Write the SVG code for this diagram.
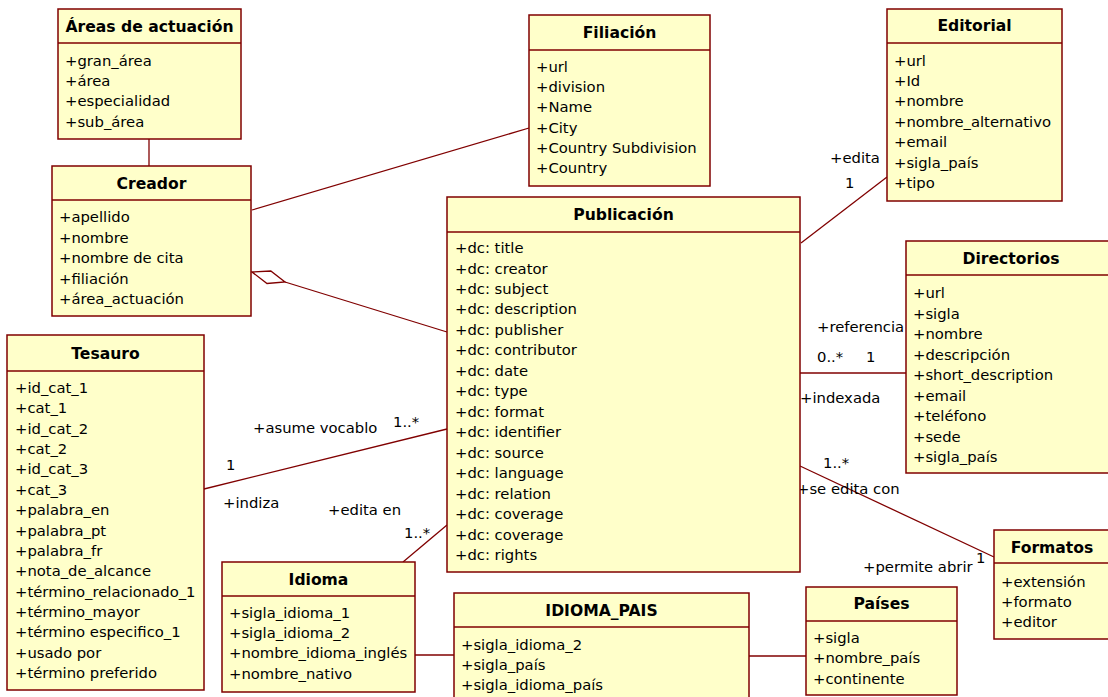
<svg xmlns="http://www.w3.org/2000/svg" width="1108" height="697" viewBox="0 0 1108 697">
<style>
.box{fill:#FFFFCA;stroke:#800000;stroke-width:1.5}
.div{stroke:#800000;stroke-width:1.5}
.t{font-family:"DejaVu Sans",Verdana,sans-serif;font-size:15.6px;font-weight:bold;fill:#000;text-anchor:middle}
.a{font-family:"DejaVu Sans",Verdana,sans-serif;font-size:14.8px;fill:#000}
.c{stroke:#800000;stroke-width:1.3;fill:none}
.l{font-family:"DejaVu Sans",Verdana,sans-serif;font-size:14.8px;fill:#000}
</style>
<rect width="1108" height="697" fill="#fff"/>
<g id="connectors">
<line class="c" x1="149" y1="139" x2="149" y2="166"/>
<line class="c" x1="252" y1="210" x2="529" y2="128"/>
<polygon class="c" points="252,272 270.8,271 285,282 267,283.5" fill="#fff"/>
<line class="c" x1="285" y1="282" x2="447" y2="332"/>
<line class="c" x1="887" y1="177" x2="801" y2="243"/>
<line class="c" x1="800" y1="373" x2="906" y2="373"/>
<line class="c" x1="204" y1="489" x2="447" y2="429"/>
<line class="c" x1="403" y1="562" x2="447" y2="525"/>
<line class="c" x1="800" y1="466" x2="994" y2="557"/>
<line class="c" x1="415" y1="655" x2="454" y2="655"/>
<line class="c" x1="749" y1="656" x2="806" y2="656"/>
<text class="l" x="830" y="163">+edita</text>
<text class="l" x="845" y="188">1</text>
<text class="l" x="817" y="332">+referencia</text>
<text class="l" x="817" y="362">0..*</text>
<text class="l" x="866" y="362">1</text>
<text class="l" x="800" y="403">+indexada</text>
<text class="l" x="823" y="468">1..*</text>
<text class="l" x="797" y="494">+se edita con</text>
<text class="l" x="976" y="563">1</text>
<text class="l" x="863" y="572">+permite abrir</text>
<text class="l" x="253" y="433">+asume vocablo</text>
<text class="l" x="393" y="427">1..*</text>
<text class="l" x="226" y="470">1</text>
<text class="l" x="223" y="508">+indiza</text>
<text class="l" x="328" y="515">+edita en</text>
<text class="l" x="404" y="538">1..*</text>
</g>
<g id="areas">
<rect class="box" x="58" y="9" width="183" height="130"/>
<line class="div" x1="58" y1="43" x2="241" y2="43"/>
<text class="t" x="149.5" y="31.5">Áreas de actuación</text>
<text class="a" x="65" y="66">+gran_área</text>
<text class="a" x="65" y="86">+área</text>
<text class="a" x="65" y="106">+especialidad</text>
<text class="a" x="65" y="127">+sub_área</text>
</g>
<g id="creador">
<rect class="box" x="52" y="166" width="199" height="150"/>
<line class="div" x1="52" y1="200" x2="251" y2="200"/>
<text class="t" x="151.5" y="188.5">Creador</text>
<text class="a" x="59" y="222">+apellido</text>
<text class="a" x="59" y="243">+nombre</text>
<text class="a" x="59" y="263">+nombre de cita</text>
<text class="a" x="59" y="284">+filiación</text>
<text class="a" x="59" y="304">+área_actuación</text>
</g>
<g id="filiacion">
<rect class="box" x="529" y="15" width="181" height="171"/>
<line class="div" x1="529" y1="50" x2="710" y2="50"/>
<text class="t" x="619.5" y="37.5">Filiación</text>
<text class="a" x="536" y="72">+url</text>
<text class="a" x="536" y="92">+division</text>
<text class="a" x="536" y="112">+Name</text>
<text class="a" x="536" y="133">+City</text>
<text class="a" x="536" y="153">+Country Subdivision</text>
<text class="a" x="536" y="173">+Country</text>
</g>
<g id="editorial">
<rect class="box" x="887" y="9" width="175" height="192"/>
<line class="div" x1="887" y1="43" x2="1062" y2="43"/>
<text class="t" x="974.5" y="30.5">Editorial</text>
<text class="a" x="894" y="66">+url</text>
<text class="a" x="894" y="86">+Id</text>
<text class="a" x="894" y="106">+nombre</text>
<text class="a" x="894" y="127">+nombre_alternativo</text>
<text class="a" x="894" y="147">+email</text>
<text class="a" x="894" y="168">+sigla_país</text>
<text class="a" x="894" y="188">+tipo</text>
</g>
<g id="publicacion">
<rect class="box" x="447" y="197" width="353" height="375"/>
<line class="div" x1="447" y1="232" x2="800" y2="232"/>
<text class="t" x="623.5" y="219.5">Publicación</text>
<text class="a" x="455" y="253">+dc: title</text>
<text class="a" x="455" y="273.5">+dc: creator</text>
<text class="a" x="455" y="294">+dc: subject</text>
<text class="a" x="455" y="314.4">+dc: description</text>
<text class="a" x="455" y="334.9">+dc: publisher</text>
<text class="a" x="455" y="355.4">+dc: contributor</text>
<text class="a" x="455" y="375.8">+dc: date</text>
<text class="a" x="455" y="396.3">+dc: type</text>
<text class="a" x="455" y="416.8">+dc: format</text>
<text class="a" x="455" y="437.2">+dc: identifier</text>
<text class="a" x="455" y="457.7">+dc: source</text>
<text class="a" x="455" y="478.2">+dc: language</text>
<text class="a" x="455" y="498.6">+dc: relation</text>
<text class="a" x="455" y="519.1">+dc: coverage</text>
<text class="a" x="455" y="539.6">+dc: coverage</text>
<text class="a" x="455" y="560">+dc: rights</text>
</g>
<g id="directorios">
<rect class="box" x="906" y="241" width="210" height="232"/>
<line class="div" x1="906" y1="275" x2="1116" y2="275"/>
<text class="t" x="1011" y="263.5">Directorios</text>
<text class="a" x="913" y="298">+url</text>
<text class="a" x="913" y="318.5">+sigla</text>
<text class="a" x="913" y="339">+nombre</text>
<text class="a" x="913" y="359.5">+descripción</text>
<text class="a" x="913" y="380">+short_description</text>
<text class="a" x="913" y="400.5">+email</text>
<text class="a" x="913" y="421">+teléfono</text>
<text class="a" x="913" y="441.5">+sede</text>
<text class="a" x="913" y="462">+sigla_país</text>
</g>
<g id="tesauro">
<rect class="box" x="7" y="335" width="197" height="355"/>
<line class="div" x1="7" y1="371" x2="204" y2="371"/>
<text class="t" x="105.5" y="358.5">Tesauro</text>
<text class="a" x="15" y="393">+id_cat_1</text>
<text class="a" x="15" y="413.4">+cat_1</text>
<text class="a" x="15" y="433.7">+id_cat_2</text>
<text class="a" x="15" y="454.1">+cat_2</text>
<text class="a" x="15" y="474.4">+id_cat_3</text>
<text class="a" x="15" y="494.8">+cat_3</text>
<text class="a" x="15" y="515.2">+palabra_en</text>
<text class="a" x="15" y="535.5">+palabra_pt</text>
<text class="a" x="15" y="555.9">+palabra_fr</text>
<text class="a" x="15" y="576.2">+nota_de_alcance</text>
<text class="a" x="15" y="596.6">+término_relacionado_1</text>
<text class="a" x="15" y="617">+término_mayor</text>
<text class="a" x="15" y="637.3">+término especifico_1</text>
<text class="a" x="15" y="657.7">+usado por</text>
<text class="a" x="15" y="678">+término preferido</text>
</g>
<g id="idioma">
<rect class="box" x="222" y="562" width="193" height="130"/>
<line class="div" x1="222" y1="596" x2="415" y2="596"/>
<text class="t" x="318.5" y="584.5">Idioma</text>
<text class="a" x="229" y="618">+sigla_idioma_1</text>
<text class="a" x="229" y="638">+sigla_idioma_2</text>
<text class="a" x="229" y="658">+nombre_idioma_inglés</text>
<text class="a" x="229" y="679">+nombre_nativo</text>
</g>
<g id="idioma_pais">
<rect class="box" x="454" y="593" width="295" height="120"/>
<line class="div" x1="454" y1="627" x2="749" y2="627"/>
<text class="t" x="601.5" y="615.5">IDIOMA_PAIS</text>
<text class="a" x="461" y="650">+sigla_idioma_2</text>
<text class="a" x="461" y="670">+sigla_país</text>
<text class="a" x="461" y="690">+sigla_idioma_país</text>
</g>
<g id="paises">
<rect class="box" x="806" y="587" width="151" height="108"/>
<line class="div" x1="806" y1="621" x2="957" y2="621"/>
<text class="t" x="881.5" y="608.5">Países</text>
<text class="a" x="813" y="643">+sigla</text>
<text class="a" x="813" y="663">+nombre_país</text>
<text class="a" x="813" y="684">+continente</text>
</g>
<g id="formatos">
<rect class="box" x="994" y="530" width="120" height="109"/>
<line class="div" x1="994" y1="563" x2="1114" y2="563"/>
<text class="t" x="1052" y="552.5">Formatos</text>
<text class="a" x="1001" y="587">+extensión</text>
<text class="a" x="1001" y="607">+formato</text>
<text class="a" x="1001" y="627">+editor</text>
</g>
</svg>
